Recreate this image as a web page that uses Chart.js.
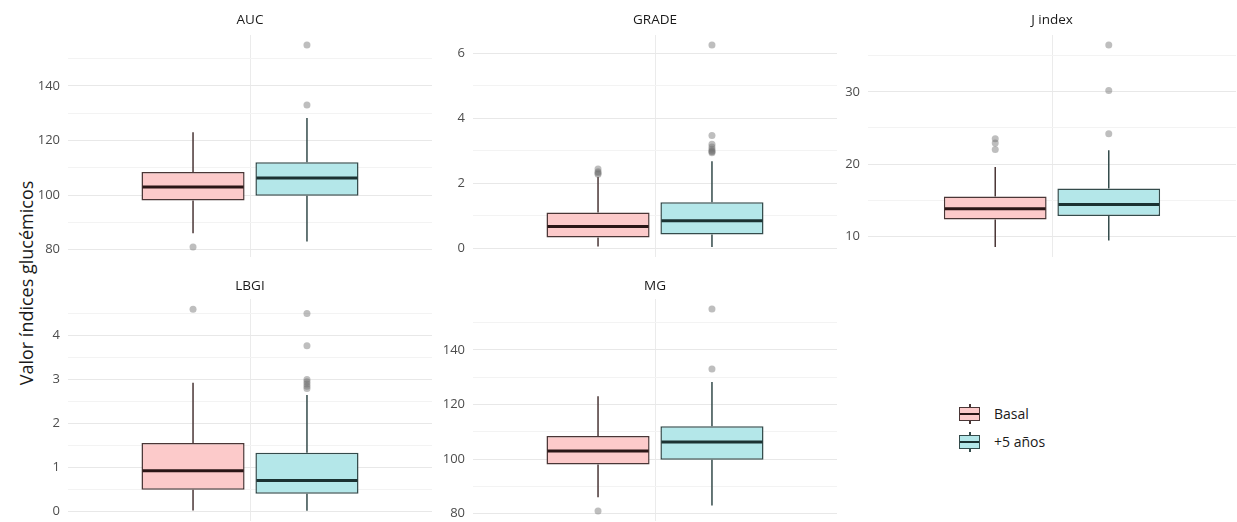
<!DOCTYPE html>
<html lang="es">
<head>
<meta charset="utf-8">
<title>Índices glucémicos</title>
<script src="https://cdn.jsdelivr.net/npm/chart.js@4.4.1/dist/chart.umd.min.js"></script>
<style>
  body { margin: 0; background: #fff; font-family: "Open Sans", sans-serif; }
  #fig { position: relative; width: 1237px; height: 522px; overflow: hidden; }
  .panel { position: absolute; }
  #ytitle {
    position: absolute; left: 26px; top: 283px;
    transform: translate(-50%, -50%) rotate(-90deg);
    white-space: nowrap; font-size: 18px; color: #1a1a1a;
  }
  .key { position: absolute; width: 21px; height: 20px; }
  .key .box { position: absolute; left: 0; top: 3px; width: 21px; height: 14px; box-sizing: border-box; border: 1.5px solid; }
  .key .med { position: absolute; left: 0; right: 0; top: 50%; height: 2px; margin-top: -1px; }
  .key .wh { position: absolute; left: 10px; width: 1.5px; height: 3px; }
  .keylabel { position: absolute; font-size: 14px; color: #1a1a1a; line-height: 16px; }
</style>
</head>
<body>
<div id="fig">
  <div id="ytitle">Valor índices glucémicos</div>
</div>
<script>
// grupos y paneles
const grupos = ['Basal', '+5 años'];
const paneles = ['AUC', 'GRADE', 'J index', 'LBGI', 'MG'];

// resumen de cada caja: [bigote inf, Q1, mediana, Q3, bigote sup]
const aucBasal = [86, 98, 103, 108.5, 123];
const auc5 = [83, 99.8, 106.3, 112, 128.3];
const aucBasalOut = [81];
const auc5Out = [133, 155];

const gradeBasal = [0.06, 0.34, 0.68, 1.11, 2.2];
const grade5 = [0.05, 0.43, 0.85, 1.42, 2.68];
const gradeBasalOut = [2.28, 2.32, 2.36, 2.44];
const grade5Out = [2.94, 2.97, 3.0, 3.05, 3.12, 3.2, 3.47, 6.25];

const jBasal = [8.5, 12.3, 13.8, 15.5, 19.6];
const j5 = [9.4, 12.8, 14.4, 16.6, 21.9];
const jBasalOut = [22.0, 22.9, 23.5];
const j5Out = [24.2, 30.2, 36.5];

const lbgiBasal = [0.03, 0.5, 0.93, 1.56, 2.93];
const lbgi5 = [0.02, 0.41, 0.71, 1.34, 2.65];
const lbgiBasalOut = [4.6];
const lbgi5Out = [2.8, 2.85, 2.9, 2.95, 3.0, 3.77, 4.5];

const mgBasal = [86, 98, 103, 108.5, 123];
const mg5 = [83, 99.8, 106.3, 112, 128.3];
const mgBasalOut = [81];
const mg5Out = [133, 155];

// ejes: rango, paso menor y paso de las etiquetas
const aucEje = { min: 77.3, max: 158.7, paso: 10, etiqueta: 20 };
const gradeEje = { min: -0.26, max: 6.56, paso: 1, etiqueta: 2 };
const jEje = { min: 7.1, max: 37.9, paso: 5, etiqueta: 10 };
const lbgiEje = { min: -0.21, max: 4.83, paso: 0.5, etiqueta: 1 };
const mgEje = { min: 77.3, max: 158.7, paso: 10, etiqueta: 20 };

const datos = [
  { cajas: [aucBasal, auc5], out: [aucBasalOut, auc5Out], eje: aucEje },
  { cajas: [gradeBasal, grade5], out: [gradeBasalOut, grade5Out], eje: gradeEje },
  { cajas: [jBasal, j5], out: [jBasalOut, j5Out], eje: jEje },
  { cajas: [lbgiBasal, lbgi5], out: [lbgiBasalOut, lbgi5Out], eje: lbgiEje },
  { cajas: [mgBasal, mg5], out: [mgBasalOut, mg5Out], eje: mgEje }
];

// estilos
const rellenos = ['#fccaca', '#b4e7e9'];
const bordes = ['#4a3636', '#344b4b'];
const medianas = ['#2a1616', '#1b3232'];
const FONT = '"Open Sans", sans-serif';

// posiciones de las facetas
const cols = [
  { left: 0, width: 432, yw: 68, padR: 0, cat: 0.626 },
  { left: 432, width: 405, yw: 41, padR: 0, cat: 0.626 },
  { left: 837, width: 400, yw: 31, padR: 1, cat: 0.617 }
];
const rows = [
  { top: 0, height: 257, padT: 35, padB: 0, gap: 15 },
  { top: 264, height: 258, padT: 35, padB: 1, gap: 13 }
];

const boxplotExtras = {
  id: 'boxplotExtras',
  afterDatasetsDraw(chart) {
    const ctx = chart.ctx;
    const y = chart.scales.y;
    chart.data.datasets.forEach((ds, i) => {
      const el = chart.getDatasetMeta(i).data[0];
      const [low, q1, med, q3, high] = ds.stats;
      const x = el.x, half = el.width / 2;
      ctx.save();
      ctx.strokeStyle = ds.borderColor;
      ctx.lineWidth = 1.5;
      ctx.beginPath();
      ctx.moveTo(x, y.getPixelForValue(q3));
      ctx.lineTo(x, y.getPixelForValue(high));
      ctx.moveTo(x, y.getPixelForValue(q1));
      ctx.lineTo(x, y.getPixelForValue(low));
      ctx.stroke();
      const ym = y.getPixelForValue(med);
      ctx.strokeStyle = ds.medianColor;
      ctx.lineWidth = 3;
      ctx.beginPath();
      ctx.moveTo(x - half + 1, ym);
      ctx.lineTo(x + half - 1, ym);
      ctx.stroke();
      ctx.fillStyle = 'rgba(110,110,110,0.45)';
      ds.outliers.forEach(v => {
        ctx.beginPath();
        ctx.arc(x, y.getPixelForValue(v), 3.5, 0, Math.PI * 2);
        ctx.fill();
      });
      ctx.restore();
    });
  }
};

const stripTitle = {
  id: 'stripTitle',
  afterDraw(chart, args, opts) {
    const a = chart.chartArea, ctx = chart.ctx;
    ctx.save();
    ctx.font = '13.5px ' + FONT;
    ctx.fillStyle = '#1a1a1a';
    ctx.textAlign = 'center';
    ctx.textBaseline = 'middle';
    ctx.fillText(opts.text, (a.left + a.right) / 2, a.top - opts.gap);
    ctx.restore();
  }
};

const fig = document.getElementById('fig');

paneles.forEach((nombre, p) => {
  const col = cols[p % 3], row = rows[Math.floor(p / 3)];
  const d = datos[p], eje = d.eje;

  const div = document.createElement('div');
  div.className = 'panel';
  div.style.left = col.left + 'px';
  div.style.top = row.top + 'px';
  div.style.width = col.width + 'px';
  div.style.height = row.height + 'px';
  const canvas = document.createElement('canvas');
  div.appendChild(canvas);
  fig.appendChild(div);

  const esEtiqueta = v => Math.abs(v / eje.etiqueta - Math.round(v / eje.etiqueta)) < 1e-6;

  new Chart(canvas.getContext('2d'), {
    type: 'bar',
    data: {
      labels: [nombre],
      datasets: grupos.map((g, i) => ({
        label: g,
        data: [[d.cajas[i][1], d.cajas[i][3]]],
        stats: d.cajas[i],
        outliers: d.out[i],
        backgroundColor: rellenos[i],
        borderColor: bordes[i],
        medianColor: medianas[i],
        borderWidth: 1.5,
        borderSkipped: false,
        categoryPercentage: col.cat,
        barPercentage: 0.905
      }))
    },
    options: {
      responsive: true,
      maintainAspectRatio: false,
      animation: false,
      layout: { padding: { left: 0, right: col.padR, top: row.padT, bottom: row.padB } },
      plugins: {
        legend: { display: false },
        tooltip: { enabled: false },
        stripTitle: { text: nombre, gap: row.gap }
      },
      scales: {
        x: {
          afterFit(scale) { scale.height = 0; scale.paddingLeft = 0; scale.paddingRight = 0; },
          ticks: { display: false },
          border: { display: false },
          grid: { offset: false, drawTicks: false, color: '#ebebeb', lineWidth: 1 }
        },
        y: {
          min: eje.min,
          max: eje.max,
          afterFit(scale) {
            scale.width = col.yw;
            scale.paddingTop = 0;
            scale.paddingBottom = 0;
          },
          border: { display: false },
          grid: {
            drawTicks: false,
            color: c => esEtiqueta(c.tick.value) ? '#e8e8e8' : '#f3f3f3',
            lineWidth: 1
          },
          ticks: {
            stepSize: eje.paso,
            includeBounds: false,
            padding: 8,
            color: '#4d4d4d',
            font: { family: FONT, size: 13 },
            callback: v => esEtiqueta(v) ? String(Math.round(v * 100) / 100) : ''
          }
        }
      }
    },
    plugins: [boxplotExtras, stripTitle]
  });
});

// leyenda
const keyTops = [404, 432];
grupos.forEach((g, i) => {
  const key = document.createElement('div');
  key.className = 'key';
  key.style.left = '959px';
  key.style.top = keyTops[i] + 'px';
  key.innerHTML =
    `<span class="wh" style="top:0;background:${bordes[i]}"></span>` +
    `<span class="box" style="background:${rellenos[i]};border-color:${bordes[i]}">` +
    `<span class="med" style="background:${medianas[i]}"></span></span>` +
    `<span class="wh" style="bottom:0;background:${bordes[i]}"></span>`;
  fig.appendChild(key);
  const lab = document.createElement('div');
  lab.className = 'keylabel';
  lab.style.left = '994px';
  lab.style.top = (keyTops[i] + 2) + 'px';
  lab.textContent = g;
  fig.appendChild(lab);
});
</script>
</body>
</html>
